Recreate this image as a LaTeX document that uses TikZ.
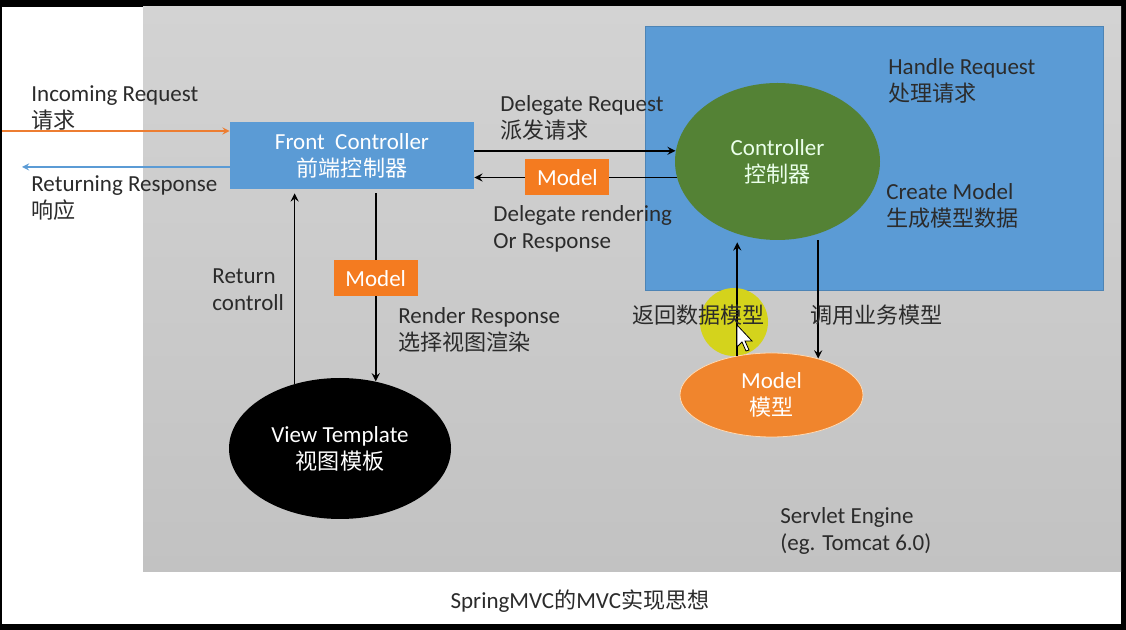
\documentclass[tikz,border=0pt]{standalone}
\usepackage{fontspec}
\setmainfont{Carlito}
\newfontfamily\cjk{Noto Sans CJK SC}[Scale=0.96]
\usetikzlibrary{arrows, shapes.geometric, positioning, calc}
\definecolor{slideblue}{HTML}{5B9BD5}
\definecolor{ctrlgreen}{HTML}{548235}
\definecolor{modelorange}{HTML}{F0852D}
\definecolor{boxorange}{HTML}{F47B20}
\definecolor{inorange}{HTML}{ED7D31}
\definecolor{engtop}{HTML}{D3D3D3}
\definecolor{engbot}{HTML}{C2C2C2}
\definecolor{txt}{HTML}{2B2B2B}
\definecolor{marker}{HTML}{D4D31C}
\tikzstyle{arrow}    = [thick,->,>=stealth]
\tikzstyle{thinarrow} = [semithick,->,>=stealth]
\tikzstyle{note}     = [inner sep=0pt, anchor=north west, align=left, text=txt, font=\fontsize{11.5}{13.5}\selectfont]
\tikzstyle{bubble}   = [ellipse, inner sep=0pt, align=center, text=white, font=\fontsize{11.5}{13.5}\selectfont]
\tikzstyle{modelbox} = [fill=boxorange, text=white, minimum width=42pt, minimum height=18pt, inner sep=0pt, font=\fontsize{11.5}{13.5}\selectfont]

\begin{document}
\begin{tikzpicture}[x=0.5pt, y=-0.5pt]
\useasboundingbox (0,0) rectangle (1126,630);

% rámeček a pozadí
\fill[black] (0,0) rectangle (1126,630);
\fill[white] (2,7) rectangle (1121,624);
\shade[top color=engtop, bottom color=engbot] (143,7) rectangle (1121,572);
\fill[slideblue, draw=slideblue!85!black] (645,26) rectangle (1103,290);
\fill[marker] (734,322) circle[radius=17pt];

% uzly
\node[fill=slideblue, text=white, minimum width=122pt, minimum height=33.5pt, inner sep=0pt, align=center,
      font=\fontsize{11.5}{13.5}\selectfont] (fc) at (352,155.5) {Front~~Controller\\{\cjk 前端控制器}};
\node[bubble, fill=ctrlgreen, text=green!8!white, minimum width=102.5pt, minimum height=78.5pt] (ctrl) at (777.5,161.5) {Controller\\{\cjk 控制器}};
\node[bubble, fill=modelorange, draw=orange!30!white, minimum width=91.5pt, minimum height=42pt] (mdl) at (771.5,395) {Model\\{\cjk 模型}};
\node[bubble, fill=black, minimum width=111pt, minimum height=70.5pt] (vt) at (340,448.5) {View Template\\{\cjk 视图模板}};

% vstup a výstup
\coordinate (inL) at (2,131);
\coordinate (outL) at (22,167);
\draw[thinarrow, inorange] (inL) -- (fc.west |- inL);
\draw[thinarrow, slideblue] (fc.west |- outL) -- (outL);

% front controller <-> controller
\draw[arrow] (fc.east |- ctrl.174) -- (ctrl.174);
\draw[arrow] (ctrl.189) -- node[modelbox, pos=0.54] (m1) {Model} (fc.east |- ctrl.189);

% front controller <-> view template
\draw[arrow, shorten <=2pt] (fc.south -| vt.62) -- node[modelbox, pos=0.463] (m2) {Model} (vt.62);
\draw[arrow, shorten >=2pt] (vt.125) -- (fc.south -| vt.125);

% controller <-> model
\draw[arrow] (ctrl.south -| mdl.38) -- (mdl.38);
\draw[arrow, shorten >=1pt] (mdl.131) -- (mdl.131 |- ctrl.south);

% popisky
\node[note] (tIn)   at (31,85)   {Incoming Request\\{\cjk 请求}};
\node[note] (tOut)  at (31,175)  {Returning Response\\{\cjk 响应}};
\node[note] (tDel)  at (500,95)  {Delegate Request\\{\cjk 派发请求}};
\node[note] (tRen)  at (493,205) {Delegate rendering\\Or Response};
\node[note] (tHdl)  at (888,58)  {Handle Request\\{\cjk 处理请求}};
\node[note] (tCrt)  at (886,183) {Create Model\\{\cjk 生成模型数据}};
\node[note] (tBack) at (632,305) {\cjk 返回数据模型};
\node[note] (tCall) at (810,305) {\cjk 调用业务模型};
\node[note] (tRet)  at (212,268) {Return\\controll};
\node[note] (tRsp)  at (398,307) {Render Response\\{\cjk 选择视图渲染}};
\node[note] (tEng)  at (780,507) {Servlet Engine\\(eg. Tomcat 6.0)};
\node[text=txt, font=\fontsize{11.5}{13.5}\selectfont] (title) at (580,601) {SpringMVC{\cjk 的}MVC{\cjk 实现思想}};

% kurzor
\filldraw[fill=white, draw=black, line width=0.4pt]
  (737,325) -- ++(0,22) -- ++(5,-5) -- ++(4,9) -- ++(3,-1) -- ++(-4,-9) -- ++(7,0) -- cycle;

\end{tikzpicture}
\end{document}
